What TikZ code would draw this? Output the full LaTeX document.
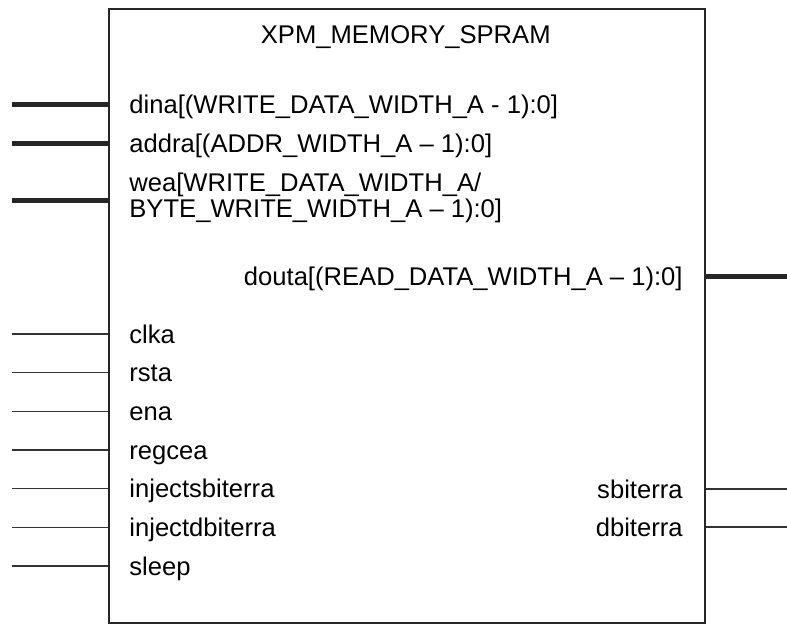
\documentclass[tikz,border=0pt]{standalone}
\usepackage{fontspec}
\setmainfont{Liberation Sans}
\usepackage{tikz}

\begin{document}
\begin{tikzpicture}[x=0.5pt, y=-0.5pt,
  pinlbl/.style={inner sep=0pt, text height=11pt, text depth=2pt, font=\fontsize{12.8}{11.8}\selectfont},
  bus/.style={line width=2.5pt, black!85},
  wire/.style={line width=0.8pt, black!80}]
\useasboundingbox (0,0) rectangle (787,623);
\node[draw=black!85, line width=1pt, minimum width=298.25pt, minimum height=307pt,
  inner sep=0pt, anchor=north west] (mem) at (107.5,7.5) {};
\node[pinlbl] (title) at (405.75,34) {XPM\_MEMORY\_SPRAM};

% bus ports
\node[pinlbl, anchor=west] (dina) at (129,104) {dina[(WRITE\_DATA\_WIDTH\_A - 1):0]};
\node[pinlbl, anchor=west] (addra) at (129,143) {addra[(ADDR\_WIDTH\_A – 1):0]};
\node[inner sep=0pt, align=left, anchor=base west, font=\fontsize{12.8}{11.8}\selectfont] (wea) at (129,217)
  {wea[WRITE\_DATA\_WIDTH\_A/\\BYTE\_WRITE\_WIDTH\_A – 1):0]};
\node[pinlbl, anchor=east] (douta) at (683,276) {douta[(READ\_DATA\_WIDTH\_A – 1):0]};
\coordinate (dina-pin) at (12,104);
\coordinate (addra-pin) at (12,143);
\coordinate (wea-pin) at (12,200);
\coordinate (douta-pin) at (787,276);
\draw[bus] (dina-pin) -- (dina-pin -| mem.west);
\draw[bus] (addra-pin) -- (addra-pin -| mem.west);
\draw[bus] (wea-pin) -- (wea-pin -| mem.west);
\draw[bus] (mem.east |- douta) -- (douta-pin);

% single bit inputs
\foreach \name [count=\i] in {clka,rsta,ena,regcea,injectsbiterra,injectdbiterra,sleep} {
  \pgfmathsetmacro{\ypos}{334+38.67*(\i-1)}
  \node[pinlbl, anchor=west] (\name) at (129,\ypos) {\name};
  \coordinate (\name-pin) at (12,\ypos);
  \draw[wire] (\name-pin) -- (\name-pin -| mem.west);
}

% single bit outputs
\node[pinlbl, anchor=east] (sbiterra) at (683,489) {sbiterra};
\node[pinlbl, anchor=east] (dbiterra) at (683,527) {dbiterra};
\coordinate (sbiterra-pin) at (787,489);
\coordinate (dbiterra-pin) at (787,527);
\draw[wire] (mem.east |- sbiterra) -- (sbiterra-pin);
\draw[wire] (mem.east |- dbiterra) -- (dbiterra-pin);
\end{tikzpicture}
\end{document}
